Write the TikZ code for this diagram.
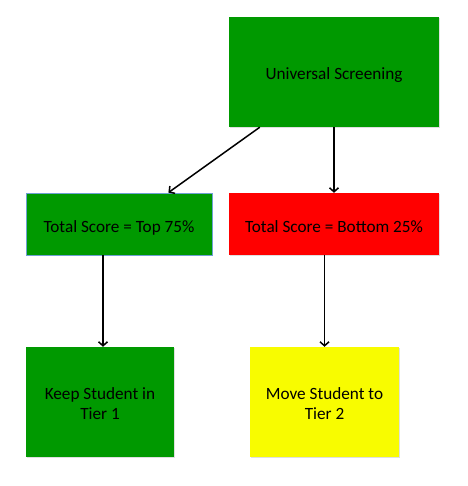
\documentclass[tikz,border=0pt]{standalone}
\usepackage{fontspec}
\setmainfont{Carlito}
\usetikzlibrary{arrows.meta,shadows}

\definecolor{boxgreen}{RGB}{0,153,0}
\definecolor{boxred}{RGB}{255,0,0}
\definecolor{boxyellow}{RGB}{248,252,0}
\definecolor{edgeblue}{RGB}{110,160,210}

\begin{document}
\begin{tikzpicture}[x=1pt,y=-1pt,
  box/.style={inner sep=0pt, align=center, font=\fontsize{17.2}{20}\selectfont,
    text height=16pt, text depth=0pt,
    drop shadow={shadow xshift=0.6pt, shadow yshift=-1.2pt, opacity=0.25}},
  twoline/.style={text height=35pt, text depth=0pt},
  arr/.style={line width=1.5pt, -{Straight Barb[length=4pt,width=9pt]}}]

\useasboundingbox (0,0) rectangle (467,486);

% Boxes
\node[box, fill=boxgreen, minimum width=210pt, minimum height=110pt] (screen) at (334,72) {Universal Screening};

\node[box, fill=boxgreen, draw=edgeblue, line width=0.8pt, minimum width=186pt, minimum height=62pt] (top75) at (119,224) {Total Score = Top 75\%};
\node[box, fill=boxred, minimum width=210pt, minimum height=62pt] (bot25) at (334,224) {Total Score = Bottom 25\%};

\node[box, twoline, fill=boxgreen, minimum width=148pt, minimum height=110pt] (tier1) at (100,402) {Keep Student in\\Tier 1};
\node[box, twoline, fill=boxyellow, minimum width=149pt, minimum height=110pt] (tier2) at (324.5,402) {Move Student to\\Tier 2};

% Arrows
\draw[arr] ([xshift=31pt]screen.south west) -- ([xshift=-44pt]top75.north east);
\draw[arr] (screen.south) -- (bot25.north);
\draw[arr] ([xshift=3pt]tier1.north |- top75.south) -- ([xshift=3pt]tier1.north);
\draw[arr] (tier2.north |- bot25.south) -- (tier2.north);

\end{tikzpicture}
\end{document}
